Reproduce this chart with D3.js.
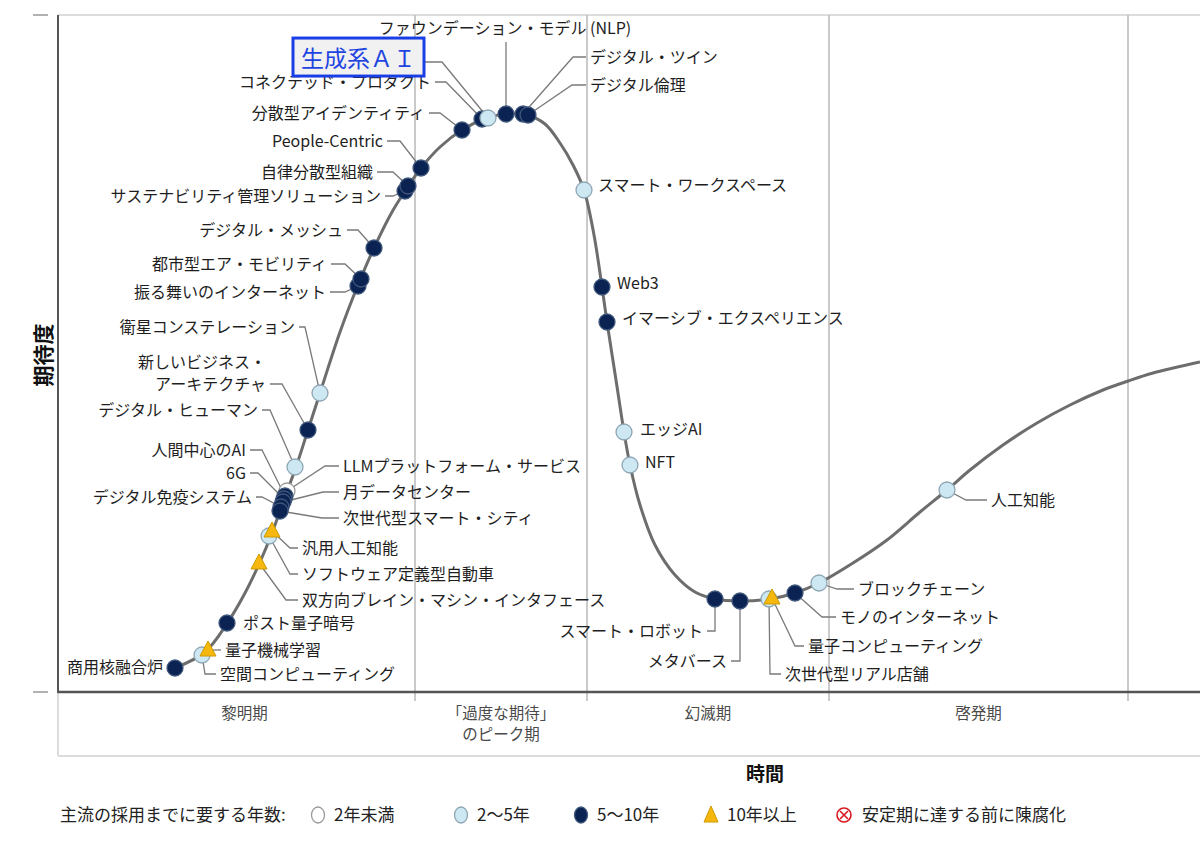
<!DOCTYPE html>
<html>
<head>
<meta charset="utf-8">
<script src="https://cdn.jsdelivr.net/npm/d3@7"></script>
<style>
  body { margin: 0; background: #fff; }
  text { font-family: "Noto Sans CJK JP", "Noto Sans", sans-serif; }
</style>
</head>
<body>
<div id="chart"></div>
<script>
// CURVE (time, expectation)
var curveX = [11.7, 14.7, 17.0, 18.7, 20.2, 21.4, 22.4, 23.8, 25.0, 26.2, 28.2, 30.0, 31.6, 33.4, 34.9, 36.3, 38.2, 40.4, 42.9, 44.8, 46.9, 48.7, 50.2, 51.5, 52.6, 53.6, 54.4, 54.9, 55.8, 56.6, 57.2, 58.2, 59.7, 61.7, 63.7, 65.7, 68.2, 71.2, 73.7, 76.1, 79.5, 82.9, 86.2, 88.9, 91.2, 94.5, 97.9, 101.2, 104.5, 107.0, 109.5, 114.2];
var curveY = [2.4, 4.0, 7.0, 9.9, 13.0, 15.9, 18.7, 22.5, 26.2, 29.9, 36.0, 40.7, 44.4, 48.0, 50.4, 52.4, 54.5, 56.2, 57.4, 57.8, 57.7, 56.8, 54.9, 52.7, 50.2, 45.7, 40.5, 37.0, 31.2, 26.0, 22.7, 18.7, 14.7, 11.7, 10.0, 9.3, 9.1, 9.3, 9.9, 10.9, 12.9, 15.2, 18.0, 20.2, 22.2, 24.7, 26.9, 28.7, 30.2, 31.1, 31.9, 33.0];

// TECHNOLOGIES
var techNames = ["商用核融合炉", "空間コンピューティング", "量子機械学習", "ポスト量子暗号", "双方向ブレイン・マシン・インタフェース", "ソフトウェア定義型自動車", "汎用人工知能", "LLMプラットフォーム・サービス", "人間中心のAI", "6G", "月データセンター", "デジタル免疫システム", "次世代型スマート・シティ", "デジタル・ヒューマン", "新しいビジネス・\nアーキテクチャ", "衛星コンステレーション", "振る舞いのインターネット", "都市型エア・モビリティ", "デジタル・メッシュ", "サステナビリティ管理ソリューション", "自律分散型組織", "People-Centric", "分散型アイデンティティ", "コネクテッド・プロダクト", "生成系ＡＩ", "ファウンデーション・モデル (NLP)", "デジタル・ツイン", "デジタル倫理", "スマート・ワークスペース", "Web3", "イマーシブ・エクスペリエンス", "エッジAI", "NFT", "スマート・ロボット", "メタバース", "次世代型リアル店舗", "量子コンピューティング", "モノのインターネット", "ブロックチェーン", "人工知能"];
var techX = [11.7, 14.4, 15.0, 16.9, 20.1, 21.1, 21.4, 22.9, 22.7, 22.6, 22.5, 22.3, 22.2, 23.7, 25.0, 26.2, 30.0, 30.3, 31.6, 34.7, 35.0, 36.3, 40.4, 42.4, 43.0, 44.8, 46.5, 47.0, 52.6, 54.4, 54.9, 56.6, 57.2, 65.7, 68.2, 71.1, 71.4, 73.7, 76.1, 88.9];
var techY = [2.4, 3.7, 4.2, 6.9, 12.9, 15.6, 16.1, 20.1, 19.6, 19.3, 19.0, 18.5, 18.1, 22.5, 26.2, 29.9, 40.6, 41.3, 44.4, 50.1, 50.6, 52.4, 56.2, 57.3, 57.4, 57.8, 57.8, 57.7, 50.2, 40.5, 37.0, 26.0, 22.7, 9.3, 9.1, 9.3, 9.4, 9.9, 10.9, 20.2];
var techYears = ["5〜10年", "2〜5年", "10年以上", "5〜10年", "10年以上", "2〜5年", "10年以上", "2年未満", "5〜10年", "5〜10年", "5〜10年", "5〜10年", "5〜10年", "2〜5年", "5〜10年", "2〜5年", "5〜10年", "5〜10年", "5〜10年", "5〜10年", "5〜10年", "5〜10年", "5〜10年", "5〜10年", "2〜5年", "5〜10年", "5〜10年", "5〜10年", "2〜5年", "5〜10年", "5〜10年", "2〜5年", "2〜5年", "5〜10年", "5〜10年", "2〜5年", "10年以上", "5〜10年", "2〜5年", "2〜5年"];

// PHASES
var phaseNames = ["黎明期", "「過度な期待」\nのピーク期", "幻滅期", "啓発期"];
var phaseBounds = [0, 35.7, 52.9, 77.1, 107.0];

// LEGEND
var legendTitle = "主流の採用までに要する年数:";
var yearCategories = ["2年未満", "2〜5年", "5〜10年", "10年以上", "安定期に達する前に陳腐化"];

var highlightName = "生成系ＡＩ";

// LABEL LAYOUT: [text dx, text dy, anchor, elbow dx, elbow dy] relative to the marker
var labelLayout = [
  [-12, -1, "end", null, null], [18, 19, "start", 3, 19], [17, 0, "start", 9, 0], [16, 0, "start", null, null],
  [43, 37, "start", 27, 37], [33, 38, "start", 21, 38], [30, 17, "start", 18, 17], [56, -25, "start", 38, -25],
  [-39, -46, "end", -23, -46], [-38, -26, "end", -26, -26], [60, -10, "start", 40, -10], [-29, -10, "end", -19, -10],
  [63, 7, "start", 42, 7], [-37, -57, "end", -25, -57], [-42, -46, "end", -26, -46], [-25, -66, "end", -15, -66],
  [-32, 6, "end", -13, 6], [-34, -15, "end", -16, -15], [-31, -18, "end", -16, -18], [-24, 5, "end", -12, 5],
  [-35, -14, "end", -15, -14], [-38, -27, "end", -21, -27], [-37, -17, "end", -22, -17], [-51, -37, "end", -36, -37],
  [-72, -59, "end", -46, -56], [-1, -86, "middle", 0, -72], [67, -57, "start", 50, -57], [62, -30, "start", 44, -30],
  [14, -5, "start", null, null], [15, -4, "start", null, null], [15, -4, "start", null, null], [16, -3, "start", null, null],
  [15, -3, "start", null, null], [-12, 32, "end", 0, 32], [-13, 60, "end", 0, 60], [16, 75, "start", 1, 75],
  [36, 48, "start", 23, 48], [45, 24, "start", 27, 24], [39, 6, "start", 18, 6], [44, 10, "start", 19, 10]
];

var w = 1200;
var h = 853;
var plotLeft = 58, plotRight = 1200, plotTop = 15, plotBottom = 692;

var x = d3.scaleLinear().domain([0, 114.2]).range([plotLeft, plotRight]);
var y = d3.scaleLinear().domain([0, 67.7]).range([plotBottom, plotTop]);

var fills = { "2年未満": "#ffffff", "2〜5年": "#cde7f3", "5〜10年": "#0b2352", "10年以上": "#f6b80f" };
var strokes = { "2年未満": "#9a9a9a", "2〜5年": "#8ea6b4", "5〜10年": "#41587c", "10年以上": "#cf9a00" };

var svg = d3.select("#chart").append("svg")
    .attr("width", w)
    .attr("height", h);

// FRAME
svg.append("line").attr("x1", plotLeft).attr("x2", plotRight).attr("y1", plotTop).attr("y2", plotTop)
    .attr("stroke", "#dcdcdc").attr("stroke-width", 2);
svg.append("line").attr("x1", plotLeft).attr("x2", plotRight).attr("y1", 756).attr("y2", 756)
    .attr("stroke", "#dcdcdc").attr("stroke-width", 2);
svg.append("line").attr("x1", plotLeft).attr("x2", plotLeft).attr("y1", plotBottom).attr("y2", 756)
    .attr("stroke", "#dcdcdc").attr("stroke-width", 2);

svg.selectAll("line.phase")
    .data(phaseBounds.slice(1))
    .enter()
    .append("line")
    .attr("class", "phase")
    .attr("x1", (d) => x(d))
    .attr("x2", (d) => x(d))
    .attr("y1", plotTop)
    .attr("y2", 701)
    .attr("stroke", "#bdbdbd")
    .attr("stroke-width", 1.6);

svg.append("line").attr("x1", plotLeft).attr("x2", plotLeft).attr("y1", plotTop).attr("y2", plotBottom + 1)
    .attr("stroke", "#555").attr("stroke-width", 2);
svg.append("line").attr("x1", plotLeft).attr("x2", plotRight).attr("y1", plotBottom).attr("y2", plotBottom)
    .attr("stroke", "#555").attr("stroke-width", 2.5);

[plotTop, plotBottom].forEach((t) => {
  svg.append("line").attr("x1", 33).attr("x2", 48).attr("y1", t).attr("y2", t)
      .attr("stroke", "#999").attr("stroke-width", 1.5);
});

// PHASE LABELS
var phaseText = svg.selectAll("text.phase")
    .data(phaseNames)
    .enter()
    .append("text")
    .attr("class", "phase")
    .attr("text-anchor", "middle")
    .attr("font-size", 15.5)
    .attr("fill", "#4a4a4a");

phaseText.each(function(d, i) {
  var cx = x((phaseBounds[i] + phaseBounds[i + 1]) / 2) + (i === 0 ? 8 : 0);
  d.split("\n").forEach((ln, j) => {
    d3.select(this).append("tspan")
        .attr("x", cx)
        .attr("y", 719 + j * 21)
        .text(ln);
  });
});

// AXIS TITLES
svg.append("text")
    .attr("x", 765)
    .attr("y", 781)
    .attr("text-anchor", "middle")
    .attr("font-size", 19)
    .attr("font-weight", "bold")
    .attr("fill", "#111")
    .text("時間");

svg.append("text")
    .attr("transform", "translate(51,355) rotate(-90)")
    .attr("text-anchor", "middle")
    .attr("font-size", 21)
    .attr("font-weight", "bold")
    .attr("fill", "#111")
    .text("期待度");

// HYPE CURVE
var curvePoints = curveX.map((d, i) => [d, curveY[i]]);
var line = d3.line()
    .x((d) => x(d[0]))
    .y((d) => y(d[1]))
    .curve(d3.curveCatmullRom.alpha(0.5));

svg.append("path")
    .datum(curvePoints)
    .attr("d", line)
    .attr("fill", "none")
    .attr("stroke", "#6d6d6d")
    .attr("stroke-width", 3);

var techs = techNames.map((name, i) => ({
  name: name, x: techX[i], y: techY[i], years: techYears[i], lay: labelLayout[i]
}));

// LEADER LINES
svg.selectAll("path.leader")
    .data(techs.filter((d) => d.lay[3] !== null))
    .enter()
    .append("path")
    .attr("class", "leader")
    .attr("fill", "none")
    .attr("stroke", "#7a7a7a")
    .attr("stroke-width", 1.3)
    .attr("d", (d) => {
      var px = x(d.x), py = y(d.y);
      var ex = px + d.lay[3], ey = py + d.lay[4];
      var tx = px + d.lay[0];
      var end = d.lay[2] === "start" ? tx - 4 : (d.lay[2] === "end" ? tx + 4 : ex);
      return "M" + px + "," + py + "L" + ex + "," + ey + "L" + end + "," + ey;
    });

// MARKERS
var markers = svg.selectAll("g.marker")
    .data(techs)
    .enter()
    .append("g")
    .attr("class", "marker")
    .attr("transform", (d) => "translate(" + x(d.x) + "," + y(d.y) + ")");

markers.filter((d) => d.years !== "10年以上")
    .append("circle")
    .attr("r", 8)
    .attr("fill", (d) => fills[d.years])
    .attr("stroke", (d) => strokes[d.years])
    .attr("stroke-width", 1.3);

markers.filter((d) => d.years === "10年以上")
    .append("path")
    .attr("d", "M0,-9L8,6L-8,6Z")
    .attr("fill", fills["10年以上"])
    .attr("stroke", strokes["10年以上"])
    .attr("stroke-width", 1);

// LABELS
var labels = svg.selectAll("text.label")
    .data(techs)
    .enter()
    .append("text")
    .attr("class", "label")
    .attr("text-anchor", (d) => d.lay[2])
    .attr("font-size", (d) => d.name === highlightName ? 23 : 16)
    .attr("fill", (d) => d.name === highlightName ? "#1f45e0" : "#1e1e1e");

labels.each(function(d) {
  var lines = d.name.split("\n");
  var tx = x(d.x) + d.lay[0];
  var ty = y(d.y) + d.lay[1];
  lines.forEach((ln, j) => {
    d3.select(this).append("tspan")
        .attr("x", tx)
        .attr("y", ty - (lines.length - 1 - j) * 22)
        .attr("dy", "0.35em")
        .text(ln);
  });
});

// HIGHLIGHT BOX
labels.filter((d) => d.name === highlightName).each(function() {
  var b = this.getBBox();
  var node = this;
  svg.insert("rect", () => node)
      .attr("x", b.x - 8)
      .attr("y", b.y - 2)
      .attr("width", b.width + 16)
      .attr("height", b.height + 4)
      .attr("fill", "#f1f1f1")
      .attr("stroke", "#1a3ee6")
      .attr("stroke-width", 3);
});

// LEGEND
var legendY = 815;
svg.append("text")
    .attr("x", 60)
    .attr("y", legendY)
    .attr("dy", "0.35em")
    .attr("font-size", 17)
    .attr("fill", "#222")
    .text(legendTitle);

var legendX = [318, 461, 581, 711, 844];
var legend = svg.selectAll("g.legend")
    .data(yearCategories)
    .enter()
    .append("g")
    .attr("class", "legend")
    .attr("transform", (d, i) => "translate(" + legendX[i] + "," + legendY + ")");

legend.filter((d, i) => i < 3)
    .append("ellipse")
    .attr("rx", 6.5)
    .attr("ry", 8)
    .attr("fill", (d) => fills[d])
    .attr("stroke", (d) => strokes[d])
    .attr("stroke-width", 1.3);

legend.filter((d, i) => i === 3)
    .append("path")
    .attr("d", "M0,-9L7,7L-7,7Z")
    .attr("fill", fills["10年以上"])
    .attr("stroke", strokes["10年以上"]);

var obsolete = legend.filter((d, i) => i === 4);
obsolete.append("circle")
    .attr("r", 7)
    .attr("fill", "#fff")
    .attr("stroke", "#d71920")
    .attr("stroke-width", 1.6);
obsolete.append("path")
    .attr("d", "M-4,-4L4,4M4,-4L-4,4")
    .attr("stroke", "#d71920")
    .attr("stroke-width", 1.6);

legend.append("text")
    .attr("x", (d, i) => i === 4 ? 18 : 16)
    .attr("dy", "0.35em")
    .attr("font-size", 17)
    .attr("fill", "#222")
    .text((d) => d);
</script>
</body>
</html>
